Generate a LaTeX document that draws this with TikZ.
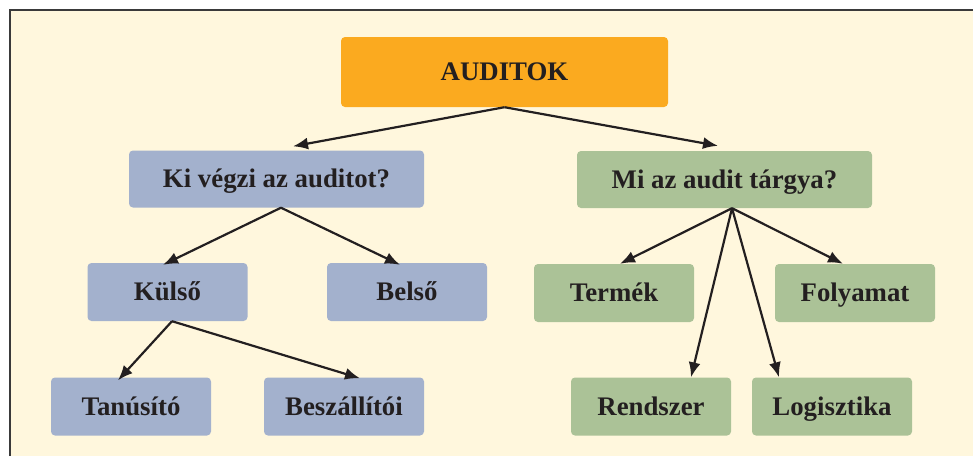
\documentclass[tikz,border=0pt]{standalone}
\usepackage{fontspec}
\setmainfont{Liberation Serif}
\usetikzlibrary{arrows.meta}
\definecolor{bgcream}{HTML}{FFF7DD}
\definecolor{framegray}{HTML}{3A3A3A}
\definecolor{orangebox}{HTML}{FBAA1F}
\definecolor{bluebox}{HTML}{A3B1CD}
\definecolor{greenbox}{HTML}{ABC297}
\definecolor{inkc}{HTML}{231F20}
\tikzset{
  box/.style={rectangle, rounded corners=4pt, inner sep=0pt, text=inkc,
    font=\fontsize{26.8pt}{30pt}\selectfont\bfseries, anchor=center,
    text height=17.8pt, text depth=0pt},
  topbox/.style={box, fill=orangebox, minimum width=327pt, minimum height=70pt},
  bluebig/.style={box, fill=bluebox, minimum width=295pt, minimum height=57pt},
  greenbig/.style={box, fill=greenbox, minimum width=295pt, minimum height=57pt},
  bluesmall/.style={box, fill=bluebox, minimum width=160pt, minimum height=58pt},
  greensmall/.style={box, fill=greenbox, minimum width=160pt, minimum height=58pt},
  arr/.style={draw=inkc, line width=2.2pt, -{Latex[length=15pt,width=12pt]}}
}
\begin{document}
\begin{tikzpicture}[x=1pt,y=-1pt]
\useasboundingbox (0,0) rectangle (973,456);
\fill[white] (0,0) rectangle (973,456);
\fill[bgcream] (10,10) rectangle (973,456);
\draw[framegray, line width=1.5pt] (10,456) -- (10,10) -- (973,10);

\node[topbox] (aud) at (504.5,72) {AUDITOK};
\node[bluebig] (ki) at (276.5,179) {Ki végzi az auditot?};
\node[greenbig] (mi) at (724.5,179.5) {Mi az audit tárgya?};
\node[bluesmall] (kul) at (167.5,292) {Külső};
\node[bluesmall] (bel) at (407,292) {Belső};
\node[greensmall] (ter) at (614,293) {Termék};
\node[greensmall] (fol) at (855,293) {Folyamat};
\node[bluesmall] (tan) at (131,406.5) {Tanúsító};
\node[bluesmall] (bes) at (344,406.5) {Beszállítói};
\node[greensmall] (ren) at (651,406.5) {Rendszer};
\node[greensmall] (log) at (832,406.5) {Logisztika};

\draw[arr] (aud.south) -- ([xshift=16.5pt,yshift=4pt]ki.north);
\draw[arr] (aud.south) -- ([xshift=-6.5pt,yshift=5pt]mi.north);
\draw[arr] ([xshift=4.5pt]ki.south) -- ([xshift=-4.5pt,yshift=-2pt]kul.north);
\draw[arr] ([xshift=4.5pt]ki.south) -- ([xshift=-7pt,yshift=-2pt]bel.north);
\draw[arr] ([xshift=4.5pt]kul.south) -- ([xshift=-13pt,yshift=-3pt]tan.north);
\draw[arr] ([xshift=4.5pt]kul.south) -- ([xshift=16pt,yshift=-1pt]bes.north);
\draw[arr] ([xshift=7.5pt]mi.south) -- ([xshift=6pt]ter.north);
\draw[arr] ([xshift=7.5pt]mi.south) -- ([xshift=-12pt]fol.north);
\draw[arr] ([xshift=7.5pt]mi.south) -- ([xshift=40pt]ren.north);
\draw[arr] ([xshift=7.5pt]mi.south) -- ([xshift=-53pt]log.north);
\end{tikzpicture}
\end{document}
